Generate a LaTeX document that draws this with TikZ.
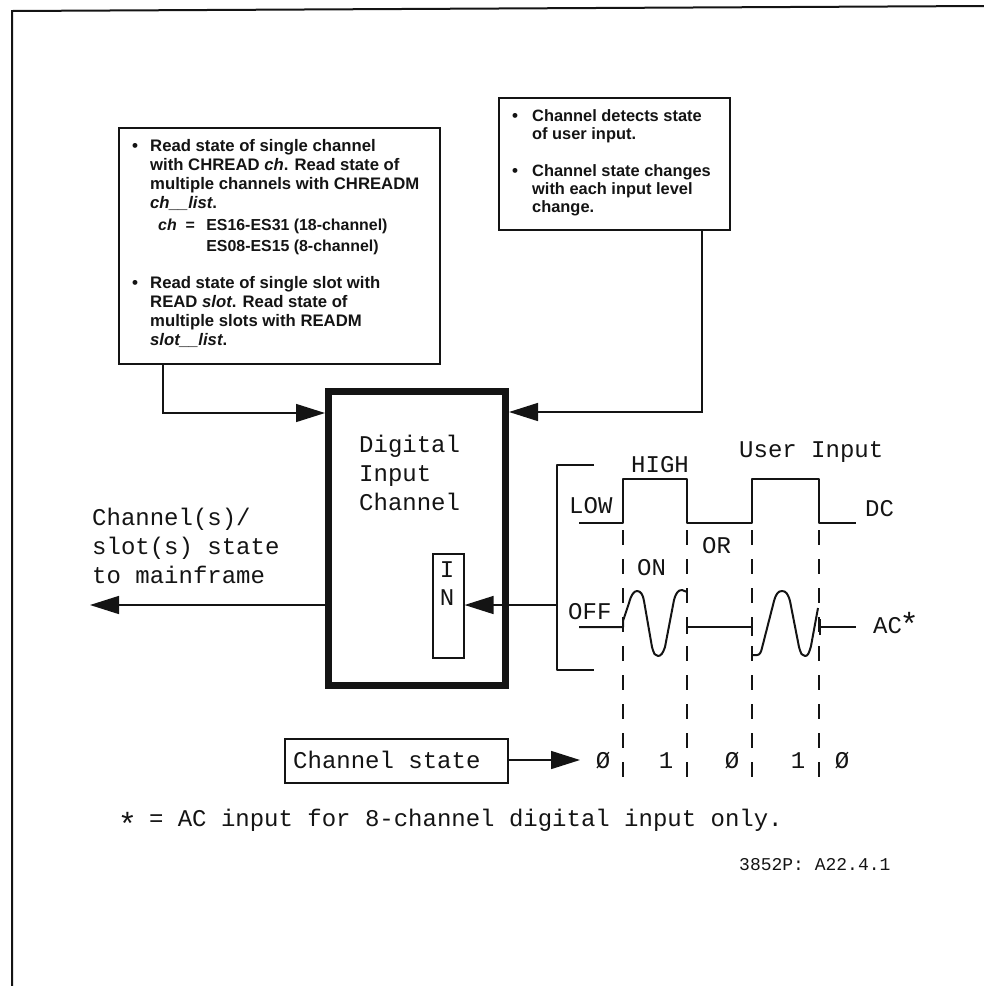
\documentclass[tikz,border=0pt]{standalone}
\usepackage{fontspec}
\setmainfont{Liberation Sans}
\setmonofont{Liberation Mono}
\usetikzlibrary{arrows.meta}
\definecolor{ink}{gray}{0.08}
\newcommand{\bigstar}[1]{\makebox[14.4pt]{\raisebox{#1}{\fontsize{32}{32}\selectfont *}}}
\tikzset{
  ln/.style={draw=ink,line width=1.5pt},
  arr/.style={ln,-{Triangle[length=29pt,width=18pt,fill=ink]}},
  plain/.style={ln,line join=round},
  wave/.style={draw=ink,line width=2pt,line join=round},
  dashv/.style={draw=ink,line width=1.5pt,dash pattern=on 15pt off 14pt},
  boxn/.style={draw=ink,line width=1.6pt,anchor=north west,inner sep=0pt,fill=white},
  pl/.style={anchor=base west,inner sep=0pt,text=ink,font=\ttfamily\fontsize{24}{24}\selectfont},
  blk/.style={anchor=north west,inner sep=0pt,align=left,text=ink,font=\bfseries\fontsize{16.7}{19.2}\selectfont},
  blkc/.style={blk,font=\bfseries\fontsize{15.9}{20.5}\selectfont},
  blkr/.style={blk,font=\bfseries\fontsize{16.4}{18.4}\selectfont},
  bul/.style={anchor=base,inner sep=0pt,text=ink,font=\bfseries\fontsize{17}{19}\selectfont},
}
\begin{document}
\begin{tikzpicture}[x=1pt,y=-1pt]
\useasboundingbox (0,0) rectangle (984,986);
% outer frame
\coordinate (fa) at (12,986);
\coordinate (fb) at (12,11);
\coordinate (fc) at (984,6);
\draw[ln,line width=2pt] (fa) -- (fb) -- (fc);

% text boxes
\node[boxn,minimum width=321pt,minimum height=236pt] (leftbox) at (118,127) {};
\node[boxn,minimum width=231pt,minimum height=132pt] (rightbox) at (498,97) {};
\node[bul] (b1) at (135,151) {•};
\node[blk] (t1) at (150,139) {Read state of single channel\\with CHREAD \textit{ch}. Read state of\\multiple channels with CHREADM\\\textit{ch\_\_list}.};
\node[blkc] (t2) at (158,219) {\textit{ch} \ =\ \ \,ES16-ES31 (18-channel)\\\phantom{\textit{ch} \ =\ \ \,}ES08-ES15 (8-channel)};
\node[bul] (b2) at (135,288) {•};
\node[blk] (t3) at (150,276) {Read state of single slot with\\READ \textit{slot}. Read state of\\multiple slots with READM\\\textit{slot\_\_list}.};
\node[bul] (b3) at (515,121) {•};
\node[blkr] (t4) at (532,109) {Channel detects state\\of user input.};
\node[bul] (b4) at (515,176) {•};
\node[blkr] (t5) at (532,164) {Channel state changes\\with each input level\\change.};

% main block
\node[boxn,draw=ink,line width=7pt,minimum width=177pt,minimum height=294pt] (main) at (325,388) {};
\node[boxn,minimum width=31pt,minimum height=104pt] (inbox) at (432,553) {};
\node[pl] (d1) at (359,452) {Digital};
\node[pl] (d2) at (359,481) {Input};
\node[pl] (d3) at (359,510) {Channel};
\node[pl,anchor=base] (ini) at (447,577) {I};
\node[pl,anchor=base] (inn) at (447,605) {N};

% connectors to the main block
\coordinate (lk) at (163,413);
\coordinate (rk) at (702,412);
\coordinate (lout) at (90,605);
\coordinate (br) at (557,605);
\draw[arr] (leftbox.south -| lk) |- (main.west |- lk);
\draw[arr] (rightbox.south -| rk) |- (main.east |- rk);
\draw[arr] (main.west |- lout) -- (lout);
\draw[plain] (main.east |- br) -- (br);
\draw[arr] (br) -- (inbox.east |- br);
\node[pl] (o1) at (92,525) {Channel(s)/};
\node[pl] (o2) at (92,554) {slot(s) state};
\node[pl] (o3) at (92,583) {to mainframe};

% bracket
\coordinate (bt) at (594,465);
\coordinate (bb) at (594,670);
\draw[plain] (bt) -- (br |- bt) -- (br |- bb) -- (bb);

% DC wave
\coordinate (e1) at (623,523);
\coordinate (e2) at (687,523);
\coordinate (e3) at (752,523);
\coordinate (e4) at (819,523);
\coordinate (dcs) at (579,523);
\coordinate (dce) at (856,523);
\draw[wave] (dcs) -- (e1) -- (623,479) -- (687,479) -- (e2) -- (e3) -- (752,479) -- (819,479) -- (e4) -- (dce);

% dashed verticals
\foreach \n/\x in {1/623,2/687,3/752,4/819}{
  \coordinate (s\n) at (\x,530);
  \coordinate (f\n) at (\x,782);
  \draw[dashv] (s\n) -- (f\n);
}

% AC wave
\coordinate (acs) at (579,627);
\coordinate (ace) at (856,627);
\coordinate (a1) at (623,627);
\coordinate (a2) at (687,627);
\coordinate (a3) at (752,627);
\coordinate (a4) at (820,627);
\draw[wave] (acs) -- (a1) -- (623,621) -- (629,603) .. controls (631,595) and (634,591) .. (637,591) .. controls (641,591) and (643,595) .. (644,601) -- (652,647) .. controls (654,654) and (655,656) .. (658,656) .. controls (661,656) and (663,653) .. (665,647) -- (674,600) .. controls (676,593) and (678,590) .. (682,590) -- (687,592);
\draw[wave] (a2) -- (a3);
\draw[plain] (687,620) -- (687,634);
\draw[plain] (752,618) -- (752,636);
\draw[wave] (752,655) -- (757,655) .. controls (760,655) and (761,652) .. (762,648) -- (774,601) .. controls (776,594) and (778,591) .. (782,591) .. controls (786,591) and (788,594) .. (790,601) -- (799,647) .. controls (801,654) and (802,656) .. (805,656) .. controls (808,656) and (809,653) .. (811,646) -- (818,608);
\draw[wave] (a4) -- (ace);
\draw[plain] (820,619) -- (820,635);

% wave labels
\node[pl] (hi) at (631,472) {HIGH};
\node[pl] (lo) at (569,513) {LOW};
\node[pl] (on) at (637,575) {ON};
\node[pl] (or) at (702,553) {OR};
\node[pl] (off) at (568,619) {OFF};
\node[pl] (dc) at (865,516) {DC};
\node[pl] (ac) at (873,633) {AC\bigstar{-2pt}};
\node[pl] (ui) at (739,457) {User Input};

% channel state row
\node[boxn,minimum width=223pt,minimum height=44pt] (cs) at (284,738) {};
\node[pl] (cst) at (293,768) {Channel state};
\coordinate (cstip) at (580,760);
\draw[arr] (cs.east |- cstip) -- (cstip);
\node[pl,anchor=base] (v1) at (603,768) {Ø};
\node[pl,anchor=base] (v2) at (666,768) {1};
\node[pl,anchor=base] (v3) at (732,768) {Ø};
\node[pl,anchor=base] (v4) at (798,768) {1};
\node[pl,anchor=base] (v5) at (842,768) {Ø};

% footnotes
\node[pl] (foot) at (120,826) {\bigstar{-9pt} = AC input for 8-channel digital input only.};
\node[pl,font=\ttfamily\fontsize{18}{18}\selectfont] (ref) at (739,870) {3852P: A22.4.1};
\end{tikzpicture}
\end{document}
